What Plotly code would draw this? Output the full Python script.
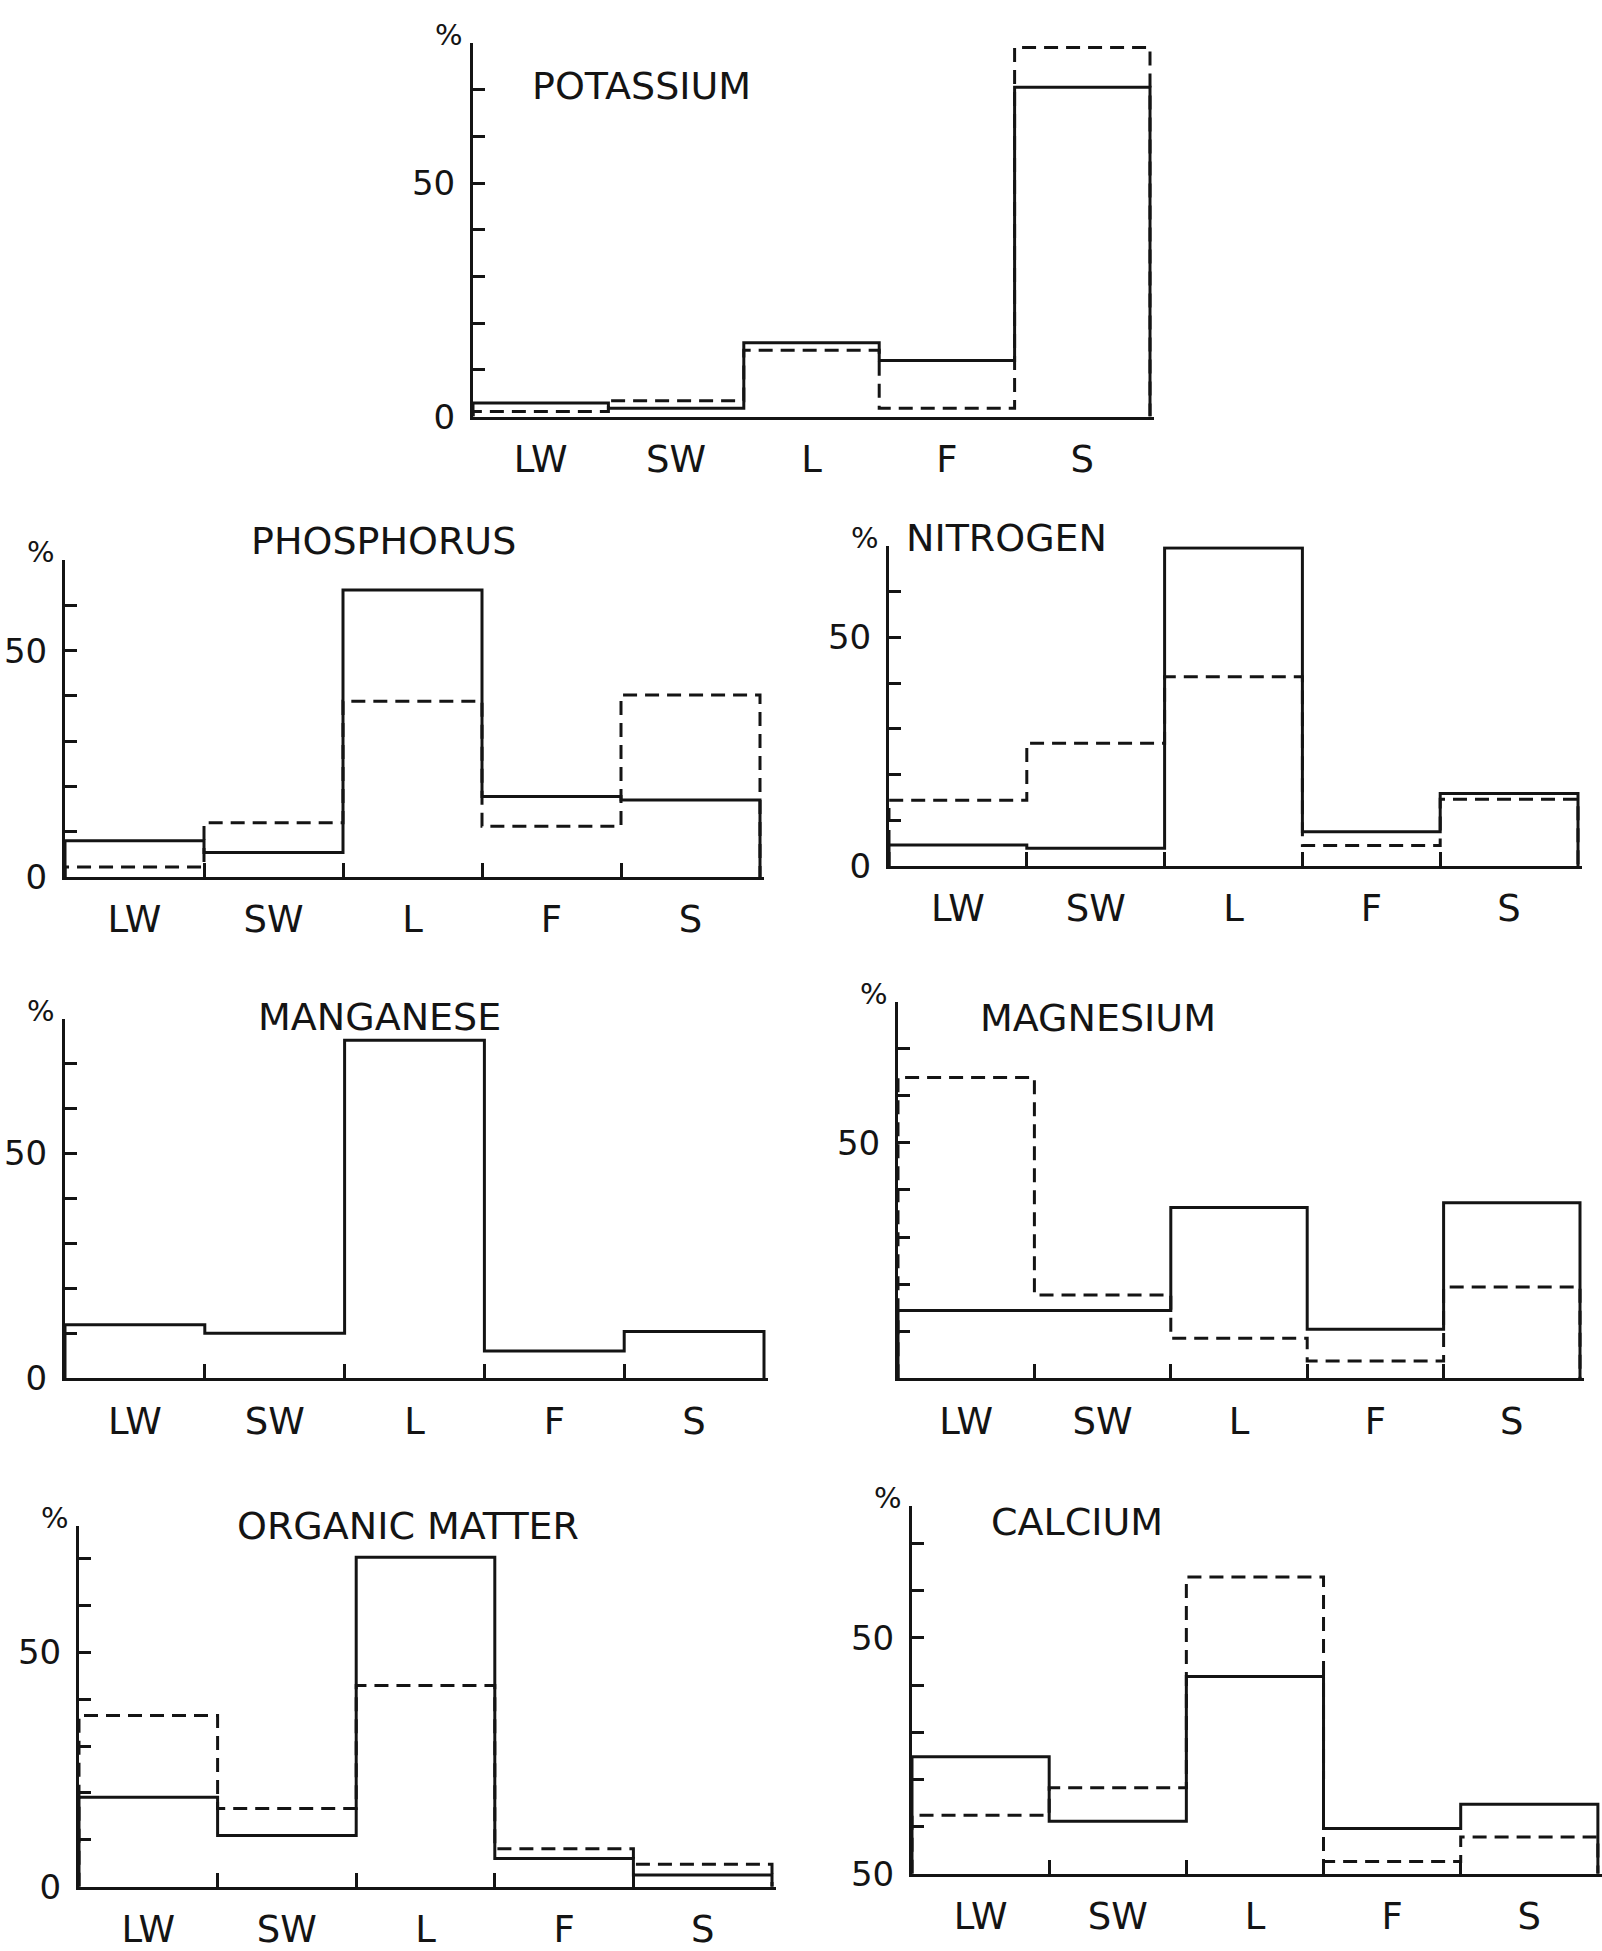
import plotly.graph_objects as go

W, H = 1602, 1951

# ---------------- data ----------------
categories = ["LW", "SW", "L", "F", "S"]

potassium_solid = [2.9, 1.8, 15.8, 12.0, 70.5]
potassium_dashed = [1.1, 3.4, 14.2, 1.8, 79.0]

phosphorus_solid = [8.0, 5.4, 63.4, 17.8, 17.0]
phosphorus_dashed = [2.2, 12.0, 38.8, 11.2, 40.2]

nitrogen_solid = [4.6, 3.9, 69.6, 7.5, 15.9]
nitrogen_dashed = [14.4, 26.9, 41.4, 4.5, 14.6]

manganese_solid = [11.9, 10.0, 75.2, 6.1, 10.4]

magnesium_solid = [14.4, 14.4, 36.3, 10.4, 37.3]
magnesium_dashed = [63.9, 17.7, 8.5, 3.7, 19.4]

organic_solid = [19.1, 10.9, 70.3, 6.0, 2.5]
organic_dashed = [36.5, 16.7, 42.9, 8.1, 4.8]

calcium_solid = [24.8, 11.1, 41.8, 9.6, 14.7]
calcium_dashed = [12.4, 18.2, 62.9, 2.6, 7.8]

titles = ["POTASSIUM", "PHOSPHORUS", "NITROGEN", "MANGANESE",
          "MAGNESIUM", "ORGANIC MATTER", "CALCIUM"]
solid_series = [potassium_solid, phosphorus_solid, nitrogen_solid, manganese_solid,
                magnesium_solid, organic_solid, calcium_solid]
dashed_series = [potassium_dashed, phosphorus_dashed, nitrogen_dashed, None,
                 magnesium_dashed, organic_dashed, calcium_dashed]
y_tops = [80, 70, 70, 80, 80, 77, 78]
y_label_zero = ["0", "0", "0", "0", "", "0", "50"]
y_label_fifty = "50"

# ---------------- layout (pixel boxes) ----------------
YS = 1.008  # vertical calibration
# left x, right x (end of S bin), y of zero, y of top
boxes = [
    (473, 1150, 418, 43),
    (65, 760, 880, 562),
    (889, 1578, 869, 548),
    (65, 764, 1383, 1022),
    (898, 1580, 1383, 1005),
    (79, 772, 1893, 1531),
    (912, 1598, 1880, 1511),
]
title_pos = [(641, 86), (383, 543), (1006, 540), (379, 1020),
             (1098, 1021), (408, 1531), (1077, 1527)]
boundary_ticks = [False, True, True, True, True, True, True]

XMAX = 5.03
FONT = "'DejaVu Sans', sans-serif"
INK = "#141414"


def step_path(values):
    xs, ys = [0], [0]
    for i, v in enumerate(values):
        xs += [i, i + 1]
        ys += [v, v]
    xs.append(len(values))
    ys.append(0)
    return xs, ys


fig = go.Figure()
annotations = []
layout = {}

for k in range(7):
    n = k + 1
    xa = "x" if n == 1 else f"x{n}"
    ya = "y" if n == 1 else f"y{n}"
    xl, xr, y0, yt = boxes[k]
    y0 *= YS
    yt *= YS
    unit = (xr - xl) / 5.0
    xr2 = min(xl + XMAX * unit, W)

    xs, ys = step_path(solid_series[k])
    fig.add_trace(go.Scatter(x=xs, y=ys, mode="lines", xaxis=xa, yaxis=ya,
                             line=dict(color=INK, width=3), showlegend=False,
                             hoverinfo="skip"))
    if dashed_series[k] is not None:
        xs, ys = step_path(dashed_series[k])
        fig.add_trace(go.Scatter(x=xs, y=ys, mode="lines", xaxis=xa, yaxis=ya,
                                 line=dict(color=INK, width=3, dash="14px,8px"),
                                 showlegend=False, hoverinfo="skip"))

    top = y_tops[k]
    tv = list(range(0, int(top) + 1, 10))
    if tv[-1] != top:
        tv.append(top)
    tt = []
    for v in tv:
        if v == 0:
            tt.append(y_label_zero[k])
        elif v == 50:
            tt.append(y_label_fifty)
        else:
            tt.append("")

    xkey = "xaxis" if n == 1 else f"xaxis{n}"
    ykey = "yaxis" if n == 1 else f"yaxis{n}"
    xaxis = dict(
        domain=[xl / W, xr2 / W], range=[0, XMAX], anchor=ya,
        showgrid=False, zeroline=False, showline=True, linecolor=INK, linewidth=3,
        tickmode="array", tickvals=[i + 0.5 for i in range(5)], ticktext=categories,
        ticks="", ticklabelstandoff=8,
        tickfont=dict(family=FONT, size=37, color=INK),
        fixedrange=True,
    )
    if boundary_ticks[k]:
        xaxis["minor"] = dict(tickmode="array", tickvals=[1, 2, 3, 4], ticks="inside",
                              ticklen=14, tickwidth=2.6, tickcolor=INK, showgrid=False)
    layout[xkey] = xaxis
    layout[ykey] = dict(
        domain=[1 - y0 / H, 1 - yt / H], range=[0, top], anchor=xa,
        showgrid=False, zeroline=False, showline=True, linecolor=INK, linewidth=3,
        tickmode="array", tickvals=tv, ticktext=tt,
        ticks="inside", ticklen=12, tickwidth=2.6, tickcolor=INK,
        ticklabelstandoff=8,
        tickfont=dict(family=FONT, size=34, color=INK),
        fixedrange=True,
    )

    tx, ty = title_pos[k]
    annotations.append(dict(text=titles[k], x=tx / W, y=1 - ty * YS / H, xref="paper", yref="paper",
                            xanchor="center", yanchor="middle", showarrow=False,
                            font=dict(family=FONT, size=38, color=INK)))
    annotations.append(dict(text="%", x=0, y=1, xref=f"{xa} domain", yref=f"{ya} domain",
                            xanchor="right", yanchor="middle", xshift=-8, yshift=8,
                            showarrow=False, font=dict(family=FONT, size=29, color=INK)))

fig.update_layout(
    width=W, height=H,
    margin=dict(l=0, r=0, t=0, b=0),
    paper_bgcolor="white", plot_bgcolor="white",
    showlegend=False,
    annotations=annotations,
    **layout,
)

fig.write_html("out.html")
